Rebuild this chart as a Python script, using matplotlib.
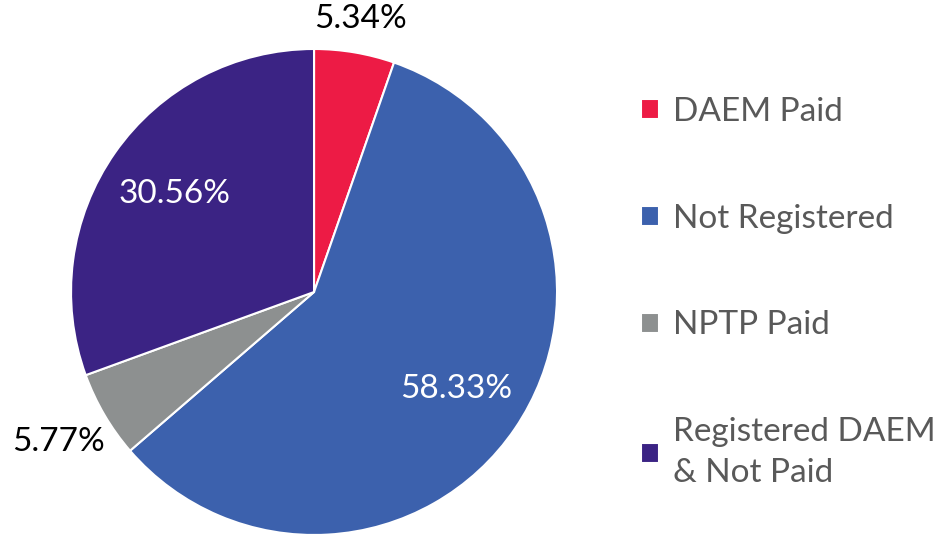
import numpy as np
import matplotlib.pyplot as plt

plt.rcParams['font.family'] = ['Lato', 'DejaVu Sans']

# Data
labels = ['DAEM Paid', 'Not Registered', 'NPTP Paid', 'Registered DAEM\n& Not Paid']
shares = [5.34, 58.33, 5.77, 30.56]
colors = ['#ED1B45', '#3C61AD', '#8D9090', '#3B2384']
label_dist = [1.14, 0.71, 1.22, 0.70]
label_color = ['black', 'white', 'black', 'white']

fig = plt.figure(figsize=(9.37, 5.36), dpi=100)
ax = fig.add_axes([0.0758, 0.0019, 0.5187, 0.9067])

wedges, _ = ax.pie(shares, colors=colors, startangle=90, counterclock=False,
                   wedgeprops=dict(edgecolor='white', linewidth=1.5))

for w, s, d, c in zip(wedges, shares, label_dist, label_color):
    ang = np.deg2rad((w.theta1 + w.theta2) / 2)
    ax.text(d * np.cos(ang), d * np.sin(ang), f'{s:.2f}%', ha='center', va='center',
            fontsize=24, color=c)

ax.set_xlim(-1, 1)
ax.set_ylim(-1, 1)
ax.set_aspect('equal')

leg = fig.legend(wedges, labels, loc='upper left', bbox_to_anchor=(0.652, 0.875),
                 frameon=False, fontsize=24, labelcolor='#595959',
                 handlelength=0.55, handleheight=0.55, handletextpad=0.4,
                 labelspacing=2.3)
for t in leg.get_texts():
    t.set_linespacing(1.45)

fig.savefig('out.png', dpi=100)
